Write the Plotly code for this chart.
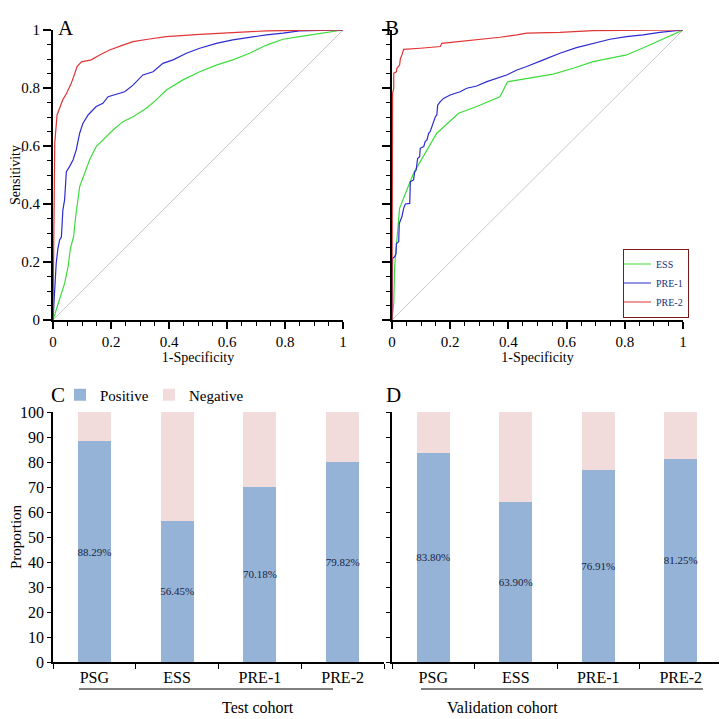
import plotly.graph_objects as go

# ---------------- Data ----------------
# Panel A (test cohort ROC)
a_ess_x = [0, 0.011, 0.029, 0.04, 0.052, 0.06, 0.071, 0.078, 0.092, 0.101, 0.126, 0.149, 0.172, 0.207, 0.241, 0.276, 0.322, 0.356, 0.391, 0.448, 0.506, 0.563, 0.62, 0.678, 0.736, 0.793, 0.85, 1]
a_ess_y = [0, 0.034, 0.092, 0.126, 0.184, 0.247, 0.287, 0.356, 0.46, 0.483, 0.552, 0.598, 0.621, 0.655, 0.684, 0.701, 0.73, 0.759, 0.793, 0.828, 0.856, 0.879, 0.897, 0.92, 0.948, 0.968, 0.977, 1]
a_pre1_x = [0, 0.006, 0.011, 0.017, 0.023, 0.029, 0.034, 0.04, 0.046, 0.057, 0.069, 0.08, 0.092, 0.103, 0.121, 0.149, 0.172, 0.19, 0.23, 0.247, 0.276, 0.31, 0.345, 0.379, 0.414, 0.46, 0.506, 0.563, 0.62, 0.678, 0.736, 0.793, 0.85, 1]
a_pre1_y = [0, 0.126, 0.195, 0.247, 0.276, 0.287, 0.379, 0.414, 0.511, 0.529, 0.552, 0.586, 0.644, 0.678, 0.707, 0.736, 0.747, 0.77, 0.782, 0.787, 0.81, 0.845, 0.856, 0.885, 0.897, 0.92, 0.937, 0.954, 0.966, 0.975, 0.983, 0.989, 0.997, 1]
a_pre2_x = [0, 0.003, 0.006, 0.014, 0.034, 0.046, 0.063, 0.075, 0.083, 0.098, 0.132, 0.161, 0.195, 0.241, 0.276, 0.333, 0.39, 0.506, 0.62, 0.736, 0.85, 1]
a_pre2_y = [0, 0.48, 0.61, 0.707, 0.76, 0.78, 0.816, 0.85, 0.874, 0.89, 0.897, 0.914, 0.931, 0.948, 0.96, 0.969, 0.977, 0.985, 0.992, 0.997, 0.999, 1]

# Panel B (validation cohort ROC)
b_ess_x = [0, 0.006, 0.009, 0.014, 0.019, 0.026, 0.051, 0.074, 0.097, 0.154, 0.229, 0.291, 0.371, 0.394, 0.4, 0.463, 0.554, 0.623, 0.691, 0.806, 0.874, 1]
b_ess_y = [0, 0.057, 0.184, 0.253, 0.322, 0.385, 0.448, 0.506, 0.546, 0.644, 0.713, 0.736, 0.77, 0.816, 0.822, 0.833, 0.848, 0.868, 0.891, 0.914, 0.943, 1]
b_pre1_x = [0, 0.002, 0.009, 0.014, 0.015, 0.023, 0.025, 0.034, 0.04, 0.046, 0.061, 0.063, 0.074, 0.078, 0.083, 0.088, 0.095, 0.097, 0.109, 0.114, 0.12, 0.126, 0.131, 0.137, 0.143, 0.149, 0.154, 0.157, 0.166, 0.177, 0.2, 0.234, 0.257, 0.291, 0.326, 0.36, 0.394, 0.429, 0.463, 0.52, 0.577, 0.634, 0.691, 0.749, 0.806, 0.863, 0.92, 1]
b_pre1_y = [0, 0.213, 0.218, 0.23, 0.264, 0.27, 0.333, 0.356, 0.385, 0.4, 0.402, 0.477, 0.483, 0.511, 0.517, 0.557, 0.563, 0.592, 0.598, 0.615, 0.621, 0.644, 0.649, 0.667, 0.678, 0.701, 0.707, 0.741, 0.753, 0.764, 0.776, 0.787, 0.799, 0.807, 0.822, 0.833, 0.845, 0.862, 0.874, 0.897, 0.92, 0.939, 0.954, 0.968, 0.977, 0.983, 0.992, 1]
b_pre2_x = [0, 0.002, 0.006, 0.006, 0.015, 0.017, 0.026, 0.029, 0.034, 0.04, 0.097, 0.166, 0.171, 0.234, 0.291, 0.371, 0.429, 0.463, 0.577, 0.691, 1]
b_pre2_y = [0, 0.782, 0.799, 0.851, 0.856, 0.868, 0.879, 0.902, 0.914, 0.933, 0.937, 0.943, 0.954, 0.96, 0.968, 0.975, 0.983, 0.989, 0.992, 0.998, 1]

# Panels C and D (proportions)
categories = ["PSG", "ESS", "PRE-1", "PRE-2"]
test_positive = [88.29, 56.45, 70.18, 79.82]
valid_positive = [83.80, 63.90, 76.91, 81.25]
test_negative = [100 - v for v in test_positive]
valid_negative = [100 - v for v in valid_positive]

# ---------------- Style ----------------
W, H = 727, 719
OFF = 8  # page body margin offset
SERIF = "Liberation Serif"
NARROW = "Liberation Sans Narrow"
GREEN, BLUE, RED = "#3ddc3d", "#2b2bd0", "#e03535"
POS, NEG = "#95b3d7", "#f2dcdb"

def px_x(p):
    return (p - OFF) / W

def px_y(p):
    return 1 - (p - OFF) / H

fig = go.Figure()

roc = [
    ("x", "y", a_ess_x, a_ess_y, a_pre1_x, a_pre1_y, a_pre2_x, a_pre2_y, False),
    ("x2", "y2", b_ess_x, b_ess_y, b_pre1_x, b_pre1_y, b_pre2_x, b_pre2_y, True),
]
for xa, ya, ex, ey, p1x, p1y, p2x, p2y, show in roc:
    fig.add_trace(go.Scatter(x=[0, 1], y=[0, 1], mode="lines", xaxis=xa, yaxis=ya,
                             line=dict(color="#c8c8c8", width=1), showlegend=False, hoverinfo="skip"))
    fig.add_trace(go.Scatter(x=ex, y=ey, mode="lines", name="ESS", xaxis=xa, yaxis=ya,
                             line=dict(color=GREEN, width=1.2), showlegend=show, legend="legend"))
    fig.add_trace(go.Scatter(x=p1x, y=p1y, mode="lines", name="PRE-1", xaxis=xa, yaxis=ya,
                             line=dict(color=BLUE, width=1.2), showlegend=show, legend="legend"))
    fig.add_trace(go.Scatter(x=p2x, y=p2y, mode="lines", name="PRE-2", xaxis=xa, yaxis=ya,
                             line=dict(color=RED, width=1.2), showlegend=show, legend="legend"))

for xa, ya, pos, neg, show in [("x3", "y3", test_positive, test_negative, True),
                                ("x4", "y4", valid_positive, valid_negative, False)]:
    fig.add_trace(go.Bar(x=categories, y=pos, name="Positive", xaxis=xa, yaxis=ya,
                         marker=dict(color=POS, line=dict(width=0)), width=0.4,
                         text=[f"{v:.2f}%" for v in pos], textposition="inside",
                         insidetextanchor="middle", textangle=0, constraintext="none",
                         textfont=dict(family=SERIF, size=11, color="#1a2440"),
                         showlegend=show, legend="legend2"))
    fig.add_trace(go.Bar(x=categories, y=neg, name="Negative", xaxis=xa, yaxis=ya,
                         marker=dict(color=NEG, line=dict(width=0)), width=0.4,
                         showlegend=show, legend="legend2", hoverinfo="skip"))

roc_x = dict(range=[0, 1.0], showline=True, linecolor="black", linewidth=2, ticks="outside",
             ticklen=7, tickwidth=1.5, tickcolor="black", dtick=0.2, tick0=0, showgrid=False,
             zeroline=False, automargin=False, tickfont=dict(family=SERIF, size=15, color="black"),
             minor=dict(ticks="outside", dtick=0.05, ticklen=4, tickwidth=1, tickcolor="black", showgrid=False),
             title=dict(text="1-Specificity", font=dict(family=NARROW, size=14, color="black"), standoff=1))
roc_y = dict(range=[0, 1.0], showline=True, linecolor="black", linewidth=2, ticks="outside",
             ticklen=8, tickwidth=1.5, tickcolor="black", dtick=0.2, tick0=0, showgrid=False,
             zeroline=False, automargin=False, tickfont=dict(family=SERIF, size=15, color="black"),
             minor=dict(ticks="outside", dtick=0.05, ticklen=4, tickwidth=1, tickcolor="black", showgrid=False))

bar_x = dict(type="category", range=[-0.5, 3.5], showline=True, linecolor="black", linewidth=1.5,
             ticks="outside", tickson="boundaries", ticklen=5, tickcolor="black", showgrid=False,
             automargin=False, tickfont=dict(family=SERIF, size=16, color="black"))
bar_y = dict(range=[0, 100], dtick=10, showline=True, linecolor="black", linewidth=1.5,
             ticks="outside", ticklen=4, tickcolor="black", showgrid=False, zeroline=False,
             automargin=False, tickfont=dict(family=SERIF, size=16, color="black"))

fig.update_layout(
    width=W, height=H, margin=dict(l=0, r=0, t=0, b=0, autoexpand=False),
    paper_bgcolor="white", plot_bgcolor="white", barmode="stack", bargap=0.6,
    xaxis=dict(roc_x, domain=[px_x(53), px_x(343)], anchor="y"),
    yaxis=dict(roc_y, domain=[px_y(320), px_y(30)], anchor="x",
               title=dict(text="Sensitivity", font=dict(family=NARROW, size=14, color="black"), standoff=9)),
    xaxis2=dict(roc_x, domain=[px_x(392), px_x(683)], anchor="y2"),
    yaxis2=dict(roc_y, domain=[px_y(320), px_y(30)], anchor="x2", showticklabels=False),
    xaxis3=dict(bar_x, domain=[px_x(53), px_x(384)], anchor="y3"),
    yaxis3=dict(bar_y, domain=[px_y(662), px_y(412)], anchor="x3",
                title=dict(text="Proportion", font=dict(family=SERIF, size=15, color="black"), standoff=8)),
    xaxis4=dict(bar_x, domain=[px_x(392), px_x(722)], anchor="y4"),
    yaxis4=dict(bar_y, domain=[px_y(662), px_y(412)], anchor="x4", showticklabels=False),
    legend=dict(x=px_x(689), y=px_y(283), xanchor="right", yanchor="middle",
                bordercolor="#7a1a1a", borderwidth=1, bgcolor="white",
                font=dict(family=SERIF, size=10, color="#22307a"),
                tracegroupgap=0, itemwidth=30, indentation=-8),
    legend2=dict(x=px_x(70), y=px_y(395), xanchor="left", yanchor="middle", orientation="h",
                 bgcolor="rgba(0,0,0,0)", font=dict(family=SERIF, size=15, color="black"),
                 itemwidth=30, traceorder="normal", indentation=-10,
                 entrywidth=54, entrywidthmode="pixels"),
)

# Panel letters
for text, x, y in [("A", 56, 14), ("B", 392, 14), ("C", 49, 395), ("D", 393, 395)]:
    fig.add_annotation(text=text, x=px_x(x), y=px_y(y), xref="paper", yref="paper",
                       showarrow=False, font=dict(family=SERIF, size=21, color="black"))

# Cohort labels with underline
for text, x0, x1, xc in [("Test cohort", 79, 333, 220), ("Validation cohort", 421, 703, 560)]:
    fig.add_shape(type="line", xref="paper", yref="paper", x0=px_x(x0), x1=px_x(x1),
                  y0=px_y(689), y1=px_y(689), line=dict(color="black", width=1.2))
    fig.add_annotation(text=text, x=px_x(xc), y=px_y(707), xref="paper", yref="paper",
                       yanchor="middle", showarrow=False,
                       font=dict(family=SERIF, size=16, color="black"))

fig.write_html("out.html")
